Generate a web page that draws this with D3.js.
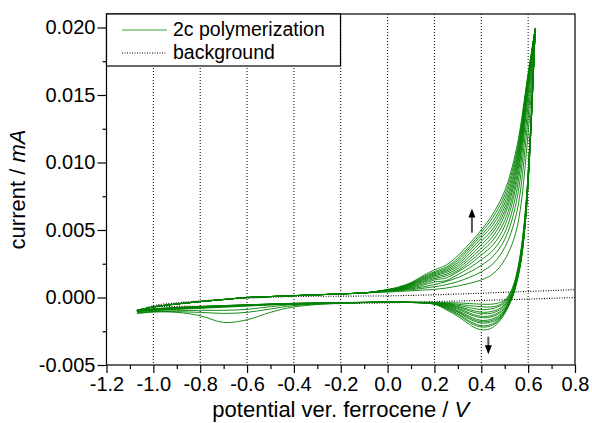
<!DOCTYPE html>
<html>
<head>
<meta charset="utf-8">
<script src="https://cdn.jsdelivr.net/npm/d3@7"></script>
<style>
  body { margin: 0; background: #fff; }
  svg text { font-family: "Liberation Sans", Arial, sans-serif; fill: #000; }
</style>
</head>
<body>
<script>
// tick labels
var xTicks = [-1.2, -1.0, -0.8, -0.6, -0.4, -0.2, 0.0, 0.2, 0.4, 0.6, 0.8];
var xMinor = [-1.1, -0.9, -0.7, -0.5, -0.3, -0.1, 0.1, 0.3, 0.5, 0.7];
var xGrid = [-1.0, -0.8, -0.6, -0.4, -0.2, 0.0, 0.2, 0.4, 0.6];
var yTicks = [-0.005, 0.000, 0.005, 0.010, 0.015, 0.020];
var yMinor = [-0.0025, 0.0025, 0.0075, 0.0125, 0.0175];

// potentials (V) of the forward scan: common low part, then the oxidation part
var fwdLowV = [-1.07, -1.0, -0.9, -0.8, -0.7, -0.6, -0.5, -0.4, -0.3, -0.2, -0.1];
var fwdHighV = [0.0, 0.05, 0.1, 0.15, 0.2, 0.25, 0.3, 0.35, 0.4, 0.45, 0.5, 0.55, 0.6, 0.63];
// potentials of the reverse scan
var revHighV = [0.63, 0.61, 0.59, 0.57, 0.55, 0.53, 0.5, 0.47, 0.44, 0.41, 0.38, 0.35, 0.3, 0.25, 0.2, 0.1, 0.0];
var revTailV = [-0.2, -0.4, -0.5, -0.6, -0.7, -0.8, -0.9, -1.0, -1.07];

// current (mA), forward scan, same for all cycles below 0 V
var fwdLowI = [-0.00095, -0.0007, -0.00048, -0.0003, -0.00015, 0.0, 0.00007, 0.00014, 0.0002, 0.00027, 0.00034];

// current (mA), forward scan, one row per cycle
var fwdHighI = [
  [0.00040, 0.00045, 0.00050, 0.00055, 0.00060, 0.00070, 0.00085, 0.00105, 0.00130, 0.00175, 0.0028, 0.0050, 0.0122, 0.0199],
  [0.00045, 0.00050, 0.00058, 0.00068, 0.00080, 0.00095, 0.00118, 0.00150, 0.00190, 0.00250, 0.0037, 0.0062, 0.0134, 0.0199],
  [0.00047, 0.00054, 0.00064, 0.00078, 0.00096, 0.00118, 0.00148, 0.00188, 0.00238, 0.00305, 0.0043, 0.0071, 0.0143, 0.0199],
  [0.00049, 0.00057, 0.00070, 0.00090, 0.00115, 0.00125, 0.00170, 0.00220, 0.00280, 0.00350, 0.0048, 0.0078, 0.0150, 0.0199],
  [0.00050, 0.00060, 0.00075, 0.00100, 0.00130, 0.00145, 0.00190, 0.00245, 0.00315, 0.00390, 0.0053, 0.0084, 0.0154, 0.0199],
  [0.00052, 0.00062, 0.00080, 0.00110, 0.00140, 0.00160, 0.00200, 0.00265, 0.00340, 0.00425, 0.0057, 0.0088, 0.0157, 0.0199],
  [0.00053, 0.00064, 0.00085, 0.00118, 0.00150, 0.00172, 0.00215, 0.00285, 0.00365, 0.00455, 0.0061, 0.0092, 0.0159, 0.0199],
  [0.00054, 0.00066, 0.00090, 0.00125, 0.00160, 0.00185, 0.00230, 0.00305, 0.00390, 0.00485, 0.0064, 0.0095, 0.0161, 0.0199],
  [0.00055, 0.00068, 0.00094, 0.00132, 0.00168, 0.00195, 0.00245, 0.00325, 0.00415, 0.00510, 0.0067, 0.0098, 0.0162, 0.0199],
  [0.00056, 0.00070, 0.00098, 0.00138, 0.00176, 0.00205, 0.00260, 0.00345, 0.00440, 0.00540, 0.0070, 0.0101, 0.0163, 0.0199],
  [0.00057, 0.00073, 0.00102, 0.00145, 0.00184, 0.00215, 0.00275, 0.00365, 0.00460, 0.00565, 0.0073, 0.0104, 0.0164, 0.0199],
  [0.00058, 0.00076, 0.00106, 0.00152, 0.00192, 0.00225, 0.00290, 0.00380, 0.00480, 0.00595, 0.0076, 0.0107, 0.0165, 0.0199],
  [0.00060, 0.00080, 0.00110, 0.00160, 0.00205, 0.00240, 0.00310, 0.00400, 0.00500, 0.00620, 0.0079, 0.0110, 0.0166, 0.0199]
];

// current (mA), reverse scan near the switching potential, one row per cycle
var revHighI = [
  [0.0199, 0.0125, 0.0068, 0.0036, 0.0017, 0.0006, -0.0002, -0.00042, -0.0005, -0.0005, -0.00048, -0.00045, -0.0004, -0.00038, -0.00036, -0.00035, -0.00035],
  [0.0199, 0.0124, 0.0067, 0.0035, 0.0016, 0.0005, -0.0003, -0.0006, -0.0007, -0.0007, -0.00066, -0.0006, -0.0005, -0.00042, -0.00038, -0.00035, -0.00035],
  [0.0199, 0.0123, 0.0066, 0.0034, 0.0015, 0.0004, -0.0004, -0.0007, -0.00085, -0.0009, -0.00085, -0.00075, -0.00058, -0.00046, -0.0004, -0.00036, -0.00035],
  [0.0199, 0.0122, 0.0065, 0.0033, 0.0014, 0.0003, -0.0005, -0.0009, -0.00105, -0.0011, -0.00103, -0.0009, -0.00066, -0.0005, -0.00041, -0.00036, -0.00035],
  [0.0199, 0.0121, 0.0064, 0.0032, 0.0014, 0.0002, -0.0006, -0.001, -0.00118, -0.0012, -0.00115, -0.001, -0.00072, -0.00053, -0.00042, -0.00036, -0.00035],
  [0.0199, 0.0120, 0.0063, 0.0031, 0.0013, 0.0002, -0.0007, -0.00115, -0.00135, -0.0014, -0.00133, -0.00115, -0.0008, -0.00057, -0.00043, -0.00036, -0.00035],
  [0.0199, 0.0120, 0.0062, 0.0030, 0.0013, 0.0001, -0.0008, -0.00125, -0.00145, -0.0015, -0.00143, -0.00125, -0.00088, -0.0006, -0.00044, -0.00036, -0.00035],
  [0.0199, 0.0119, 0.0062, 0.0030, 0.0012, 0.0001, -0.0009, -0.0014, -0.00163, -0.0017, -0.00162, -0.0014, -0.00098, -0.00065, -0.00045, -0.00036, -0.00035],
  [0.0199, 0.0119, 0.0061, 0.0029, 0.0012, 0.0, -0.00095, -0.0015, -0.00173, -0.0018, -0.00172, -0.0015, -0.00105, -0.0007, -0.00046, -0.00036, -0.00035],
  [0.0199, 0.0118, 0.0061, 0.0029, 0.0011, 0.0, -0.001, -0.0016, -0.00183, -0.0019, -0.00182, -0.0016, -0.0011, -0.00073, -0.00047, -0.00037, -0.00035],
  [0.0199, 0.0118, 0.0060, 0.0028, 0.0011, -0.0001, -0.00105, -0.0017, -0.002, -0.0021, -0.002, -0.00175, -0.0012, -0.0008, -0.00048, -0.00037, -0.00035],
  [0.0199, 0.0118, 0.0060, 0.0028, 0.0011, -0.0001, -0.0011, -0.0018, -0.0021, -0.0022, -0.0021, -0.00185, -0.00128, -0.00083, -0.00049, -0.00037, -0.00035],
  [0.0199, 0.0117, 0.0059, 0.0027, 0.0010, -0.0001, -0.0012, -0.0019, -0.0023, -0.0024, -0.0023, -0.002, -0.0014, -0.0009, -0.0005, -0.00037, -0.00035]
];

// current (mA), reverse scan below 0 V, one row per cycle
var revTailI = [
  [-0.00042, -0.00070, -0.00110, -0.00165, -0.00185, -0.00135, -0.00110, -0.00108, -0.00120],
  [-0.00042, -0.00060, -0.00085, -0.00110, -0.00118, -0.00110, -0.00105, -0.00105, -0.00115],
  [-0.00041, -0.00052, -0.00068, -0.00088, -0.00095, -0.00095, -0.00098, -0.00102, -0.00112],
  [-0.00040, -0.00048, -0.00055, -0.00064, -0.00072, -0.00080, -0.00088, -0.00096, -0.00105],
  [-0.00040, -0.00047, -0.00053, -0.00061, -0.00069, -0.00077, -0.00085, -0.00094, -0.00104],
  [-0.00040, -0.00047, -0.00052, -0.00059, -0.00067, -0.00075, -0.00083, -0.00092, -0.00102],
  [-0.00040, -0.00046, -0.00051, -0.00058, -0.00065, -0.00073, -0.00081, -0.00090, -0.00101],
  [-0.00039, -0.00046, -0.00051, -0.00057, -0.00064, -0.00071, -0.00079, -0.00089, -0.00100],
  [-0.00039, -0.00045, -0.00050, -0.00056, -0.00063, -0.00070, -0.00078, -0.00088, -0.00100],
  [-0.00039, -0.00045, -0.00050, -0.00055, -0.00062, -0.00069, -0.00077, -0.00087, -0.00099],
  [-0.00038, -0.00044, -0.00049, -0.00055, -0.00061, -0.00068, -0.00076, -0.00086, -0.00098],
  [-0.00038, -0.00044, -0.00049, -0.00054, -0.00060, -0.00067, -0.00075, -0.00085, -0.00097],
  [-0.00038, -0.00043, -0.00048, -0.00054, -0.00060, -0.00066, -0.00074, -0.00084, -0.00096]
];

// background scan (dotted)
var bgFwdV = [-1.05, -1.0, -0.9, -0.8, -0.6, -0.4, -0.2, 0.0, 0.2, 0.4, 0.6, 0.8];
var bgFwdI = [-0.0009, -0.0006, -0.0004, -0.00025, -0.00005, 0.00007, 0.0001, 0.00012, 0.0002, 0.00032, 0.00045, 0.00058];
var bgRevV = [0.8, 0.6, 0.4, 0.2, 0.0, -0.2, -0.4, -0.6, -0.8, -1.0, -1.05];
var bgRevI = [0.0, -0.00012, -0.00022, -0.0003, -0.0004, -0.00045, -0.0005, -0.00058, -0.00065, -0.00072, -0.0009];

var w = 592, h = 423;
var plotLeft = 106.5, plotRight = 575, plotTop = 14, plotBottom = 365;
var green = "#008000";

var svg = d3.select("body").append("svg")
  .attr("width", w)
  .attr("height", h);

var x = d3.scaleLinear().domain([-1.2, 0.8]).range([plotLeft, plotRight]);
var y = d3.scaleLinear().domain([-0.005, 0.021]).range([plotBottom, plotTop]);

// dotted vertical grid
svg.append("g").selectAll("line")
  .data(xGrid)
  .enter().append("line")
  .attr("x1", function(d) { return x(d); })
  .attr("x2", function(d) { return x(d); })
  .attr("y1", plotTop)
  .attr("y2", plotBottom)
  .attr("stroke", "#000")
  .attr("stroke-width", 1)
  .attr("stroke-dasharray", "1,2");

var line = d3.line()
  .x(function(d) { return x(d[0]); })
  .y(function(d) { return y(d[1]); })
  .curve(d3.curveCatmullRom.alpha(0.5));

var plot = svg.append("g");

// background
plot.append("path")
  .attr("d", line(bgFwdV.map(function(v, i) { return [v, bgFwdI[i]]; })))
  .attr("fill", "none").attr("stroke", "#000").attr("stroke-width", 1.1)
  .attr("stroke-dasharray", "1,1.5");
plot.append("path")
  .attr("d", line(bgRevV.map(function(v, i) { return [v, bgRevI[i]]; })))
  .attr("fill", "none").attr("stroke", "#000").attr("stroke-width", 1.1)
  .attr("stroke-dasharray", "1,1.5");

// polymerization cycles
fwdHighI.forEach(function(row, c) {
  var fwd = fwdLowV.map(function(v, i) { return [v, fwdLowI[i]]; })
    .concat(fwdHighV.map(function(v, i) { return [v, row[i]]; }));
  var rev = revHighV.map(function(v, i) { return [v, revHighI[c][i]]; })
    .concat(revTailV.map(function(v, i) { return [v, revTailI[c][i]]; }));
  plot.append("path").attr("d", line(fwd))
    .attr("fill", "none").attr("stroke", green).attr("stroke-width", 0.9);
  plot.append("path").attr("d", line(rev))
    .attr("fill", "none").attr("stroke", green).attr("stroke-width", 0.9);
});

// arrows showing growth with cycle number
function arrow(v, i0, i1) {
  var x0 = x(v), y0 = y(i0), y1 = y(i1);
  var dir = y1 < y0 ? 1 : -1;
  svg.append("line")
    .attr("x1", x0).attr("x2", x0)
    .attr("y1", y0).attr("y2", y1 + dir * 7)
    .attr("stroke", "#555").attr("stroke-width", 2);
  svg.append("path")
    .attr("d", "M" + x0 + "," + y1 + "L" + (x0 - 3.5) + "," + (y1 + dir * 9) +
               "L" + (x0 + 3.5) + "," + (y1 + dir * 9) + "Z")
    .attr("fill", "#000");
}
arrow(0.36, 0.0048, 0.0066);
arrow(0.43, -0.0029, -0.0042);

// frame
svg.append("rect")
  .attr("x", plotLeft).attr("y", plotTop)
  .attr("width", plotRight - plotLeft).attr("height", plotBottom - plotTop)
  .attr("fill", "none").attr("stroke", "#000").attr("stroke-width", 1.2);

// axes
var xAxis = d3.axisBottom(x).tickValues(xTicks).tickSize(8).tickPadding(4)
  .tickFormat(function(d) { return d.toFixed(1); });
var xAxisMinor = d3.axisBottom(x).tickValues(xMinor).tickSize(4).tickFormat("");
var yAxis = d3.axisLeft(y).tickValues(yTicks).tickSize(9).tickPadding(2)
  .tickFormat(function(d) { return d.toFixed(3); });
var yAxisMinor = d3.axisLeft(y).tickValues(yMinor).tickSize(4).tickFormat("");

function styleAxis(g) {
  g.select(".domain").remove();
  g.selectAll("line").attr("stroke", "#000").attr("stroke-width", 1.2);
  g.selectAll("text").style("font-size", "20px").attr("fill", "#000")
    .style("font-family", "'Liberation Sans', Arial, sans-serif");
}

svg.append("g").attr("transform", "translate(0," + plotBottom + ")").call(xAxis).call(styleAxis);
svg.append("g").attr("transform", "translate(0," + plotBottom + ")").call(xAxisMinor).call(styleAxis);
svg.append("g").attr("transform", "translate(" + plotLeft + ",0)").call(yAxis).call(styleAxis);
svg.append("g").attr("transform", "translate(" + plotLeft + ",0)").call(yAxisMinor).call(styleAxis);

// axis titles
var xt = svg.append("text")
  .attr("x", (plotLeft + plotRight) / 2)
  .attr("y", 417)
  .attr("text-anchor", "middle")
  .style("font-size", "22px");
xt.append("tspan").text("potential ver. ferrocene / ");
xt.append("tspan").style("font-style", "italic").text("V");

var yt = svg.append("text")
  .attr("transform", "translate(25," + (plotTop + plotBottom) / 2 + ") rotate(-90)")
  .attr("text-anchor", "middle")
  .style("font-size", "22px");
yt.append("tspan").text("current / ");
yt.append("tspan").style("font-style", "italic").text("mA");

// legend
var legend = svg.append("g");
legend.append("rect")
  .attr("x", plotLeft).attr("y", plotTop)
  .attr("width", 234).attr("height", 52)
  .attr("fill", "#fff").attr("stroke", "#000").attr("stroke-width", 1.2);
legend.append("line")
  .attr("x1", 122).attr("x2", 167).attr("y1", 30).attr("y2", 30)
  .attr("stroke", "#3aa63a").attr("stroke-width", 1);
legend.append("line")
  .attr("x1", 122).attr("x2", 166).attr("y1", 53).attr("y2", 53)
  .attr("stroke", "#000").attr("stroke-width", 1).attr("stroke-dasharray", "1,1.5");
legend.append("text").attr("x", 173).attr("y", 36).style("font-size", "19.5px").text("2c polymerization");
legend.append("text").attr("x", 173).attr("y", 59).style("font-size", "19.5px").text("background");
</script>
</body>
</html>
